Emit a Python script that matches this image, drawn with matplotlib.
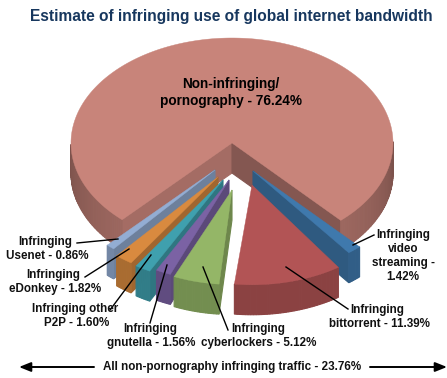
#!/usr/bin/env python3
"""Exploded 3D pie: estimate of infringing use of global internet bandwidth."""
import numpy as np
import matplotlib; matplotlib.use("Agg")
import matplotlib.pyplot as plt
from matplotlib.colors import to_rgb
from matplotlib.patches import Polygon

plt.rcParams['font.family'] = ['Liberation Sans', 'DejaVu Sans']

names = ["Non-infringing", "Video streaming", "Bittorrent", "Cyberlockers",
         "Gnutella", "Other P2P", "eDonkey", "Usenet"]
values = [76.24, 1.42, 11.39, 5.12, 1.56, 1.60, 1.82, 0.86]
colors = ["#C8847A", "#3F79AD", "#B25455", "#94B667", "#7B62A4", "#3FA0AE", "#D98A3F", "#93ADD3"]
# tip of each slice in px, radius scale and small turn (the slices are pulled out by hand)
tips = [(232, 143), (253, 171), (252, 185), (232, 190), (229, 180), (223, 180), (218, 177), (215, 170)]
scale = [1.0, 0.98, 0.95, 0.90, 0.97, 0.98, 0.98, 0.98]
turn = [0, 0, -3, -1.5, 0, 0, 0, 0]

CX, CY, RX, RY, DEPTH = 232, 143, 161, 105, 30
START = 42.5  # deg from straight down, where the big slice ends on the right

def shade(c, f):
    return tuple(min(1, x*f) for x in to_rgb(c))

def point(tip, r, a):
    a = np.radians(a)
    return (tip[0]+RX*r*np.sin(a), tip[1]+RY*r*np.cos(a))

def quad(ax, p, q, c, z):
    pts = [p, q, (q[0], q[1]+DEPTH), (p[0], p[1]+DEPTH)]
    ax.add_patch(Polygon(pts, closed=True, fc=c, ec=c, lw=0.8, zorder=z))

def draw_slice(ax, a0, a1, tip, r, col, z, big=False):
    arc = np.linspace(a0, a1, max(8, int(abs(a1-a0))))
    pts = [point(tip, r, a) for a in arc]
    # flat walls first
    if big:
        quad(ax, tip, pts[-1], shade(col, 0.82), z)
        quad(ax, tip, pts[0], shade(col, 0.66), z)
    elif a0*a1 > 0:
        near = a0 if abs(a0) < abs(a1) else a1
        quad(ax, tip, point(tip, r, near), shade(col, 0.74), z)
    # outer wall, front part only
    for p, q, a in zip(pts[:-1], pts[1:], arc[:-1]):
        sa = (a+360+180) % 360-180
        if abs(sa) < 90:
            f = 0.62+0.22*np.cos(np.radians(sa)) if big else 0.78
            quad(ax, p, q, shade(col, f), z+0.1)
    ax.add_patch(Polygon([tip]+pts, closed=True, fc=col, ec=col, lw=0.3, zorder=z+0.2))

fig = plt.figure(figsize=(4.47, 3.78), dpi=100)
ax = fig.add_axes([0, 0, 1, 1])
ax.set_xlim(0, 447); ax.set_ylim(378, 0); ax.axis("off")

widths = [v*3.6 for v in values]
# big slice runs counter-clockwise seen from above: from START round the back
draw_slice(ax, START, START+widths[0], tips[0], scale[0], colors[0], 1, big=True)
a = START
order = [1, 2, 7, 6, 5, 4, 3]
edges = {}
for i in range(1, len(values)):
    edges[i] = (a+turn[i], a-widths[i]+turn[i])
    a -= widths[i]
for n, i in enumerate(order):
    draw_slice(ax, edges[i][0], edges[i][1], tips[i], scale[i], colors[i], 2+n)

ax.text(231, 17, "Estimate of infringing use of global internet bandwidth", color="#17375E",
        fontsize=11.2, fontweight="bold", ha="center", va="center")
ax.text(231, 84, "Non-infringing/", fontsize=9.8, fontweight="bold", ha="center", va="center", zorder=20)
ax.text(231, 101, "pornography - 76.24%", fontsize=9.8, fontweight="bold", ha="center", va="center", zorder=20)

labels = [("Infringing", 45, 242), ("Usenet - 0.86%", 47, 256),
          ("Infringing", 53, 275), ("eDonkey - 1.82%", 55, 289),
          ("Infringing other", 75, 309), ("P2P - 1.60%", 77, 323),
          ("Infringing", 150, 329), ("gnutella - 1.56%", 151, 343),
          ("Infringing", 258, 329), ("cyberlockers - 5.12%", 259, 343),
          ("Infringing", 377, 310), ("bittorrent - 11.39%", 379, 324),
          ("Infringing", 403, 235), ("video", 403, 249), ("streaming -", 403, 263), ("1.42%", 403, 277)]
for txt, x, y in labels:
    ax.text(x, y, txt, fontsize=8.4, fontweight="bold", ha="center", va="center", color="#111111", zorder=20)
ax.text(232, 367, "All non-pornography infringing traffic - 23.76%", fontsize=8.4, fontweight="bold",
        ha="center", va="center", color="#111111", zorder=20)

leaders = [((77, 243), (118, 239)), ((85, 277), (129, 249)), ((110, 310), (151, 255)),
           ((150, 323), (167, 265)), ((228, 330), (203, 267)), ((348, 309), (286, 267)),
           ((374, 235), (353, 245))]
for p, q in leaders:
    ax.plot([p[0], q[0]], [p[1], q[1]], color="black", lw=1.0, zorder=19)

for tail, head in [((94, 367), (19, 367)), ((370, 367), (447, 367))]:
    ax.annotate("", xy=head, xytext=tail, zorder=20,
                arrowprops=dict(arrowstyle="-|>,head_length=0.7,head_width=0.28", color="black", lw=1.4,
                                shrinkA=0, shrinkB=0))

fig.savefig("out.png", dpi=100)
